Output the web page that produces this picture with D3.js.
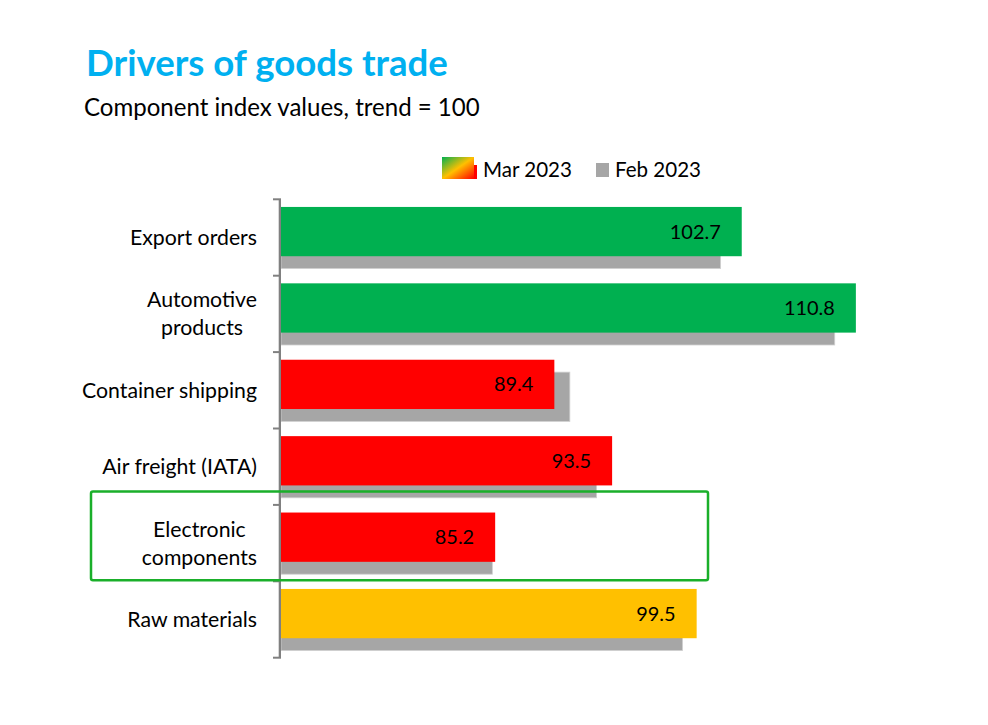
<!DOCTYPE html>
<html><head><meta charset="utf-8">
<script src="https://cdn.jsdelivr.net/npm/d3@7"></script>
<style>body{margin:0;background:#fff}svg{display:block}text{font-family:Lato,"Open Sans",sans-serif}</style>
</head><body><svg id="c" width="988" height="725"></svg>
<script>
const categories = [["Export orders"],["Automotive","products"],["Container shipping"],["Air freight (IATA)"],["Electronic","components"],["Raw materials"]];
const mar2023 = [102.7, 110.8, 89.4, 93.5, 85.2, 99.5];
const feb2023 = [101.2, 109.3, 90.5, 92.4, 85.0, 98.5];
const marColors = ["#00B050","#00B050","#FF0000","#FF0000","#FF0000","#FFC000"];
const seriesNames = ["Mar 2023","Feb 2023"];
const highlighted = "Electronic components";

const svg = d3.select("#c");
const keys = categories.map(c => c.join(" "));
const x = d3.scaleLinear().domain([70, 120]).range([281, 281 + 50*14.09]);
const y = d3.scaleBand().domain(keys).range([199.3, 657.7]).padding(0);
const bw = y.bandwidth();

function fit(sel, w){ const n = sel.node(); const fs = parseFloat(sel.attr("font-size")); sel.attr("font-size", fs * w / n.getComputedTextLength()); return sel; }
function fitSize(txt, weight, w, base){ const t = svg.append("text").attr("font-size", base).attr("font-weight", weight).text(txt); const l = t.node().getComputedTextLength(); t.remove(); return base * w / l; }

// title
fit(svg.append("text").attr("x", 86).attr("y", 76).attr("font-size", 34).attr("font-weight", 700).attr("fill", "#00B0F0").text("Drivers of goods trade"), 362);
fit(svg.append("text").attr("x", 84).attr("y", 116).attr("font-size", 22).attr("fill", "#000").text("Component index values, trend = 100"), 396);

// legend
const defs = svg.append("defs");
const g = defs.append("linearGradient").attr("id","lg").attr("x1","0").attr("y1","0").attr("x2","1").attr("y2","1");
g.append("stop").attr("offset","0%").attr("stop-color","#00B050");
g.append("stop").attr("offset","50%").attr("stop-color","#FFC000");
g.append("stop").attr("offset","100%").attr("stop-color","#FF0000");
svg.append("rect").attr("x",442).attr("y",157).attr("width",32).attr("height",22).attr("fill","url(#lg)");
svg.append("rect").attr("x",474).attr("y",165).attr("width",3).attr("height",14).attr("fill","#FF0000");
const legFs = fitSize(seriesNames[0], 400, 89, 20);
svg.append("text").attr("x",483).attr("y",177).attr("font-size",legFs).text(seriesNames[0]);
svg.append("rect").attr("x",596).attr("y",163).attr("width",13).attr("height",14).attr("fill","#A6A6A6");
svg.append("text").attr("x",615).attr("y",177).attr("font-size",legFs).text(seriesNames[1]);

// bars
svg.append("g").selectAll("rect").data(feb2023).join("rect")
  .attr("x", x(70)).attr("y", (d,i) => y(keys[i]) + bw*0.262)
  .attr("width", d => x(d) - x(70)).attr("height", bw*0.645)
  .attr("fill", "#A6A6A6").attr("stroke","#D0D0D0").attr("stroke-width",0.8);
svg.append("g").selectAll("rect").data(mar2023).join("rect")
  .attr("x", x(70)).attr("y", (d,i) => y(keys[i]) + bw*0.1)
  .attr("width", d => x(d) - x(70)).attr("height", bw*0.645)
  .attr("fill", (d,i) => marColors[i]);

// value labels
const valFs = fitSize("102.7", 400, 51, 20);
svg.append("g").selectAll("text").data(mar2023).join("text")
  .attr("x", d => x(d) - 21).attr("y", (d,i) => y(keys[i]) + bw*0.1 + bw*0.3225)
  .attr("dy","0.35em").attr("text-anchor","end").attr("font-size", valFs)
  .text(d => d.toFixed(1));

// axis
const ax = svg.append("g");
ax.append("line").attr("x1",278.5).attr("x2",278.5).attr("y1",199.3).attr("y2",657.7).attr("stroke","#D9D9D9").attr("stroke-width",1);
ax.append("line").attr("x1",280).attr("x2",280).attr("y1",199.3).attr("y2",657.7).attr("stroke","#808080").attr("stroke-width",2);
const bounds = keys.map(k => y(k)).concat([657.7]);
ax.selectAll(".tk").data(bounds).join("line").attr("class","tk")
  .attr("x1",273).attr("x2",281).attr("y1",d=>d).attr("y2",d=>d).attr("stroke","#808080").attr("stroke-width",2);

// category labels
const catFs = fitSize("Container shipping", 400, 175, 20);
categories.forEach((lines, i) => {
  const cy = y(keys[i]) + bw/2;
  const lh = 28;
  const t = svg.append("text").attr("font-size", catFs).attr("text-anchor", lines.length>1 ? "middle":"end");
  let cx = 257;
  if (lines.length > 1) {
    const w = Math.max(...lines.map(s => { const tt = svg.append("text").attr("font-size",catFs).text(s); const l = tt.node().getComputedTextLength(); tt.remove(); return l; }));
    cx = 257 - w/2;
  }
  lines.forEach((s, j) => {
    t.append("tspan").attr("x", cx).attr("y", cy + (j - (lines.length-1)/2)*lh).attr("dy","0.35em").text(s);
  });
});

// highlight box
const hi = keys.indexOf(highlighted);
svg.append("rect").attr("x",91).attr("y", y(keys[hi]) - 13.5).attr("width",617).attr("height", bw + 12.5)
  .attr("rx",2).attr("fill","none").attr("stroke","#1AAF2A").attr("stroke-width",2.5);
</script></body></html>
